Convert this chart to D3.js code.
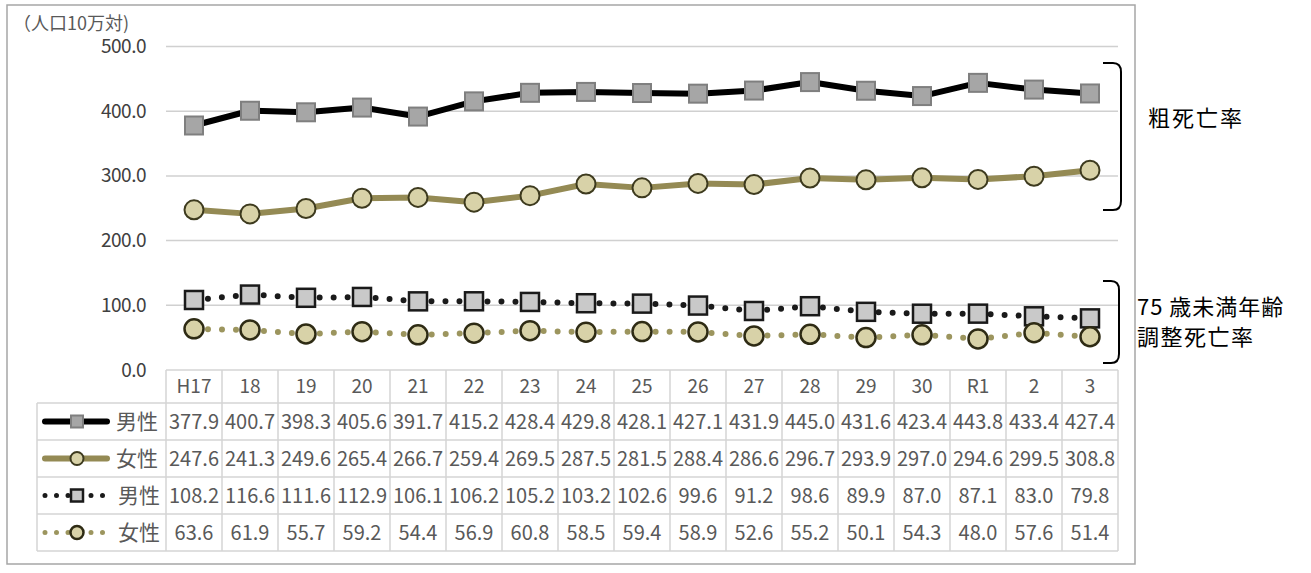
<!DOCTYPE html>
<html><head><meta charset="utf-8">
<script src="https://cdn.jsdelivr.net/npm/d3@7"></script>
<style>
body{margin:0;background:#fff;}
text{font-family:"Noto Sans CJK JP","Noto Sans",sans-serif;}
</style></head><body>
<svg id="c" width="1311" height="573"></svg>
<script>
const categories = ["H17","18","19","20","21","22","23","24","25","26","27","28","29","30","R1","2","3"];
const crudeMale   = [377.9,400.7,398.3,405.6,391.7,415.2,428.4,429.8,428.1,427.1,431.9,445.0,431.6,423.4,443.8,433.4,427.4];
const crudeFemale = [247.6,241.3,249.6,265.4,266.7,259.4,269.5,287.5,281.5,288.4,286.6,296.7,293.9,297.0,294.6,299.5,308.8];
const adjMale     = [108.2,116.6,111.6,112.9,106.1,106.2,105.2,103.2,102.6,99.6,91.2,98.6,89.9,87.0,87.1,83.0,79.8];
const adjFemale   = [63.6,61.9,55.7,59.2,54.4,56.9,60.8,58.5,59.4,58.9,52.6,55.2,50.1,54.3,48.0,57.6,51.4];
const yTicks = [0,100,200,300,400,500];
const seriesLabels = ["男性","女性","男性","女性"];

const svg = d3.select("#c");
const X0 = 166, X1 = 1118, YTOP = 46.5, YBOT = 370;
const x = d3.scaleBand().domain(categories).range([X0, X1]);
const y = d3.scaleLinear().domain([0,500]).range([YBOT, YTOP]);
const cx = d => x(d) + x.bandwidth()/2;

// outer frame
svg.append("rect").attr("x",7).attr("y",5).attr("width",1128).attr("height",559)
  .attr("fill","none").attr("stroke","#a6a6a6").attr("stroke-width",1.5);

// gridlines
svg.append("g").selectAll("line").data(yTicks.filter(t=>t>0)).join("line")
  .attr("x1",X0).attr("x2",X1).attr("y1",d=>y(d)).attr("y2",d=>y(d))
  .attr("stroke","#d0d0d0").attr("stroke-width",1.5);

// y axis labels
const yAxis = d3.axisLeft(y).tickValues(yTicks).tickFormat(d3.format(".1f")).tickSize(0).tickPadding(20);
const ga = svg.append("g").attr("transform",`translate(${X0},0)`).call(yAxis);
ga.select(".domain").remove();
ga.selectAll("text").attr("font-size",19).attr("fill","#404040").attr("letter-spacing","-0.5")
  .attr("font-family","'Liberation Sans','Noto Sans',sans-serif");

svg.append("text").attr("x",13).attr("y",30).attr("font-size",18).attr("fill","#595959").text("（人口10万対)");

// series
const series = [
  {vals:crudeMale, color:"#000", dash:null, marker:"sq", mfill:"#a6a6a6", mstroke:"#7f7f7f", mw:2},
  {vals:crudeFemale, color:"#948a54", dash:null, marker:"ci", mfill:"#d8d2a8", mstroke:"#3d3a1e", mw:2},
  {vals:adjMale, color:"#1a1a1a", dash:"0 14", marker:"sq", mfill:"#c9c9c9", mstroke:"#1a1a1a", mw:2.5},
  {vals:adjFemale, color:"#9c955e", dash:"0 14", marker:"ci", mfill:"#d8d2a8", mstroke:"#2e2b14", mw:2.5}
];
const line = d3.line().x((d,i)=>cx(categories[i])).y(d=>y(d));
series.forEach(s=>{
  const p = svg.append("path").datum(s.vals).attr("d",line).attr("fill","none")
    .attr("stroke",s.color).attr("stroke-width",6).attr("stroke-linejoin","round");
  if(s.dash){ p.attr("stroke-dasharray",s.dash).attr("stroke-linecap","round").attr("stroke-dashoffset",-14); }
  const g = svg.append("g");
  if(s.marker==="sq"){
    g.selectAll("rect").data(s.vals).join("rect")
      .attr("x",(d,i)=>cx(categories[i])-9).attr("y",d=>y(d)-9).attr("width",18).attr("height",18)
      .attr("fill",s.mfill).attr("stroke",s.mstroke).attr("stroke-width",s.mw);
  } else {
    g.selectAll("circle").data(s.vals).join("circle")
      .attr("cx",(d,i)=>cx(categories[i])).attr("cy",d=>y(d)).attr("r",9.5)
      .attr("fill",s.mfill).attr("stroke",s.mstroke).attr("stroke-width",s.mw);
  }
});

// data table
const LX = 37, HTOP = 370, HBOT = 403, RH = 37;
const tcol = "#d4d4d4";
const tbl = svg.append("g");
tbl.append("line").attr("x1",X0).attr("x2",X1).attr("y1",HTOP).attr("y2",HTOP).attr("stroke",tcol).attr("stroke-width",1.5);
for(let r=0;r<=4;r++){
  tbl.append("line").attr("x1",LX).attr("x2",X1).attr("y1",HBOT+r*RH).attr("y2",HBOT+r*RH).attr("stroke",tcol).attr("stroke-width",1.5);
}
tbl.append("line").attr("x1",LX).attr("x2",LX).attr("y1",HBOT).attr("y2",HBOT+4*RH).attr("stroke",tcol).attr("stroke-width",1.5);
[...categories.map(c=>x(c)), X1].forEach(v=>{
  tbl.append("line").attr("x1",v).attr("x2",v).attr("y1",HTOP).attr("y2",HBOT+4*RH).attr("stroke",tcol).attr("stroke-width",1.5);
});
tbl.selectAll("text.h").data(categories).join("text").attr("class","h")
  .attr("x",d=>cx(d)).attr("y",(HTOP+HBOT)/2).attr("dy","0.36em").attr("text-anchor","middle")
  .attr("font-size",19).attr("fill","#595959").text(d=>d);
series.forEach((s,r)=>{
  const ym = HBOT + r*RH + RH/2;
  tbl.append("g").selectAll("text").data(s.vals).join("text")
    .attr("x",(d,i)=>cx(categories[i])).attr("y",ym).attr("dy","0.36em").attr("text-anchor","middle")
    .attr("font-size",20).attr("fill","#595959").text(d=>d.toFixed(1));
  const lg = tbl.append("g");
  lg.append("line").attr("x1",45).attr("x2",107).attr("y1",ym).attr("y2",ym)
    .attr("stroke",s.color).attr("stroke-width",s.dash?5:6).attr("stroke-linecap","round")
    .attr("stroke-dasharray",s.dash?"0 11.5":null);
  if(s.marker==="sq"){
    lg.append("rect").attr("x",71).attr("y",ym-6).attr("width",12).attr("height",12)
      .attr("fill",s.mfill).attr("stroke",s.mstroke).attr("stroke-width",s.mw);
  } else {
    lg.append("circle").attr("cx",77).attr("cy",ym).attr("r",6.5)
      .attr("fill",s.mfill).attr("stroke",s.mstroke).attr("stroke-width",s.mw);
  }
  lg.append("text").attr("x",s.dash?118:116).attr("y",ym).attr("dy","0.36em")
    .attr("font-size",21).attr("fill","#595959").text(seriesLabels[r]);
});

// braces and annotations
function brace(t,b,xr){
  return `M1103,${t} L${xr-8},${t} Q${xr},${t} ${xr},${t+9} L${xr},${b-9} Q${xr},${b} ${xr-8},${b} L1103,${b}`;
}
svg.append("path").attr("d",brace(63,210,1121)).attr("fill","none").attr("stroke","#000").attr("stroke-width",2);
svg.append("path").attr("d",brace(281,363,1119)).attr("fill","none").attr("stroke","#000").attr("stroke-width",2);
const ann = "'Liberation Serif','Noto Sans CJK JP',serif";
svg.append("text").attr("x",1148).attr("y",118).attr("dy","0.36em").attr("font-size",22).attr("font-family",ann)
  .attr("letter-spacing","2").attr("fill","#000").text("粗死亡率");
svg.append("text").attr("x",1137).attr("y",307).attr("dy","0.36em").attr("font-size",22).attr("font-family",ann)
  .attr("letter-spacing","1").attr("fill","#000").text("75  歳未満年齢");
svg.append("text").attr("x",1137).attr("y",337).attr("dy","0.36em").attr("font-size",22).attr("font-family",ann)
  .attr("letter-spacing","1.5").attr("fill","#000").text("調整死亡率");
</script></body></html>
